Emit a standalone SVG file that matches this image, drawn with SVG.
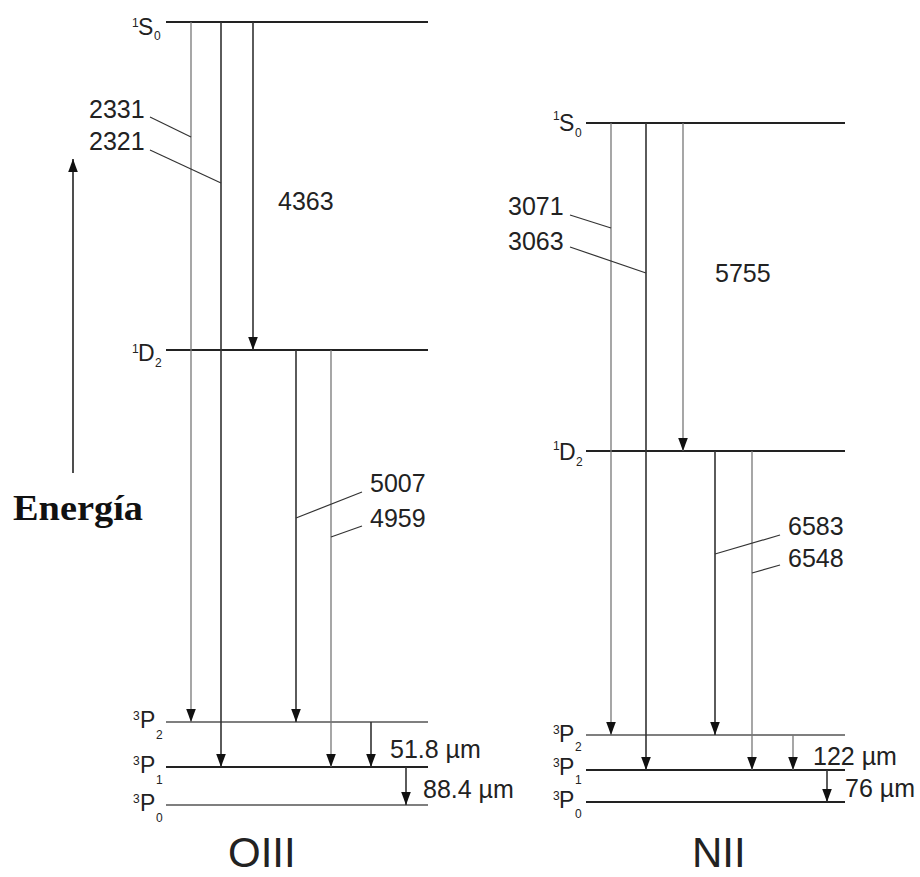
<svg xmlns="http://www.w3.org/2000/svg" width="920" height="877" viewBox="0 0 920 877">
<defs>
<marker id="ah" viewBox="0 -5 13 10" refX="13" refY="0" markerWidth="13" markerHeight="10" markerUnits="userSpaceOnUse" orient="auto">
<path d="M0,-4.8 L13,0 L0,4.8 z" fill="#111"/>
</marker>
<style>
.lv{stroke:#222;stroke-width:2;fill:none}
.lvl{stroke:#555;stroke-width:1.6;fill:none}
.tr{stroke:#333;stroke-width:1.6;fill:none;marker-end:url(#ah)}
.trl{stroke:#777;stroke-width:1.3;fill:none;marker-end:url(#ah)}
.ld{stroke:#333;stroke-width:1.2;fill:none}
.num{font-family:"Liberation Sans",Arial,sans-serif;font-size:25px;fill:#222}
.big{font-family:"Liberation Sans",Arial,sans-serif;font-size:42px;fill:#222}
.st{font-family:"Liberation Sans",Arial,sans-serif;font-size:23px;fill:#222}
.sm{font-family:"Liberation Sans",Arial,sans-serif;font-size:12px;fill:#222}
.en{font-family:"Liberation Serif","Times New Roman",serif;font-size:35px;font-weight:bold;fill:#111}
</style>
</defs>
<rect width="920" height="877" fill="#fff"/>

<!-- Energy axis -->
<g id="energia">
<line x1="73" y1="473" x2="73" y2="159" class="tr" style="stroke:#222"/>
<text x="13" y="520" class="en" textLength="130" lengthAdjust="spacingAndGlyphs">Energía</text>
</g>

<!-- OIII levels -->
<g id="oiii-1S0">
<line x1="166" y1="22" x2="428" y2="22" class="lv"/>
<text x="132" y="27" class="sm">1</text><text x="138" y="35" class="st">S</text><text x="154" y="40" class="sm">0</text>
</g>
<g id="oiii-1D2">
<line x1="166" y1="350" x2="428" y2="350" class="lv"/>
<text x="132" y="353" class="sm">1</text><text x="138" y="361" class="st">D</text><text x="155" y="367" class="sm">2</text>
</g>
<g id="oiii-3P2">
<line x1="166" y1="722" x2="428" y2="722" class="lvl"/>
<text x="133" y="720" class="sm">3</text><text x="140" y="728" class="st">P</text><text x="156" y="739" class="sm">2</text>
</g>
<g id="oiii-3P1">
<line x1="166" y1="767" x2="428" y2="767" class="lv"/>
<text x="133" y="765" class="sm">3</text><text x="140" y="773" class="st">P</text><text x="156" y="784" class="sm">1</text>
</g>
<g id="oiii-3P0">
<line x1="166" y1="805" x2="428" y2="805" class="lvl"/>
<text x="133" y="803" class="sm">3</text><text x="140" y="811" class="st">P</text><text x="156" y="822" class="sm">0</text>
</g>
<g id="oiii-title"><text x="228" y="867" class="big">OIII</text></g>

<!-- NII levels -->
<g id="nii-1S0">
<line x1="586" y1="123" x2="845" y2="123" class="lv"/>
<text x="553" y="120" class="sm">1</text><text x="559" y="131" class="st">S</text><text x="575" y="137" class="sm">0</text>
</g>
<g id="nii-1D2">
<line x1="586" y1="451" x2="845" y2="451" class="lv"/>
<text x="553" y="450" class="sm">1</text><text x="559" y="460" class="st">D</text><text x="576" y="466" class="sm">2</text>
</g>
<g id="nii-3P2">
<line x1="586" y1="735" x2="845" y2="735" class="lvl"/>
<text x="553" y="734" class="sm">3</text><text x="559" y="742" class="st">P</text><text x="575" y="751" class="sm">2</text>
</g>
<g id="nii-3P1">
<line x1="586" y1="770" x2="845" y2="770" class="lv"/>
<text x="553" y="767" class="sm">3</text><text x="559" y="775" class="st">P</text><text x="575" y="784" class="sm">1</text>
</g>
<g id="nii-3P0">
<line x1="586" y1="802" x2="845" y2="802" class="lv"/>
<text x="553" y="800" class="sm">3</text><text x="559" y="808" class="st">P</text><text x="575" y="818" class="sm">0</text>
</g>
<g id="nii-title"><text x="692" y="867" class="big">NII</text></g>

<!-- connectors -->
<g id="connectors">
<line x1="191" y1="22" x2="191" y2="722" class="trl"/>
<line x1="221" y1="22" x2="221" y2="767" class="tr"/>
<line x1="253" y1="22" x2="253" y2="350" class="tr"/>
<line x1="296" y1="350" x2="296" y2="722" class="tr"/>
<line x1="331" y1="350" x2="331" y2="767" class="trl"/>
<line x1="371" y1="722" x2="371" y2="767" class="tr"/>
<line x1="406" y1="767" x2="406" y2="805" class="tr"/>

<line x1="611" y1="123" x2="611" y2="735" class="trl"/>
<line x1="646" y1="123" x2="646" y2="770" class="tr"/>
<line x1="683" y1="123" x2="683" y2="451" class="trl"/>
<line x1="715" y1="451" x2="715" y2="735" class="tr"/>
<line x1="752" y1="451" x2="752" y2="770" class="trl"/>
<line x1="793" y1="735" x2="793" y2="770" class="trl"/>
<line x1="827" y1="770" x2="827" y2="802" class="tr"/>

<line x1="150" y1="117" x2="191" y2="137" class="ld"/>
<line x1="150" y1="150" x2="221" y2="183" class="ld"/>
<line x1="296" y1="518" x2="362" y2="492" class="ld"/>
<line x1="331" y1="537" x2="362" y2="526" class="ld"/>
<line x1="570" y1="215" x2="611" y2="228" class="ld"/>
<line x1="570" y1="247" x2="646" y2="273" class="ld"/>
<line x1="715" y1="554" x2="780" y2="535" class="ld"/>
<line x1="752" y1="573" x2="780" y2="565" class="ld"/>
</g>

<!-- wavelength labels -->
<g id="labels">
<text x="89" y="118" class="num">2331</text>
<text x="89" y="150" class="num">2321</text>
<text x="278" y="210" class="num">4363</text>
<text x="370" y="492" class="num">5007</text>
<text x="370" y="527" class="num">4959</text>
<text x="390" y="758" class="num">51.8 µm</text>
<text x="423" y="798" class="num">88.4 µm</text>
<text x="508" y="215" class="num">3071</text>
<text x="508" y="250" class="num">3063</text>
<text x="715" y="282" class="num">5755</text>
<text x="788" y="535" class="num">6583</text>
<text x="788" y="567" class="num">6548</text>
<text x="813" y="765" class="num">122 µm</text>
<text x="845" y="797" class="num">76 µm</text>
</g>
</svg>
